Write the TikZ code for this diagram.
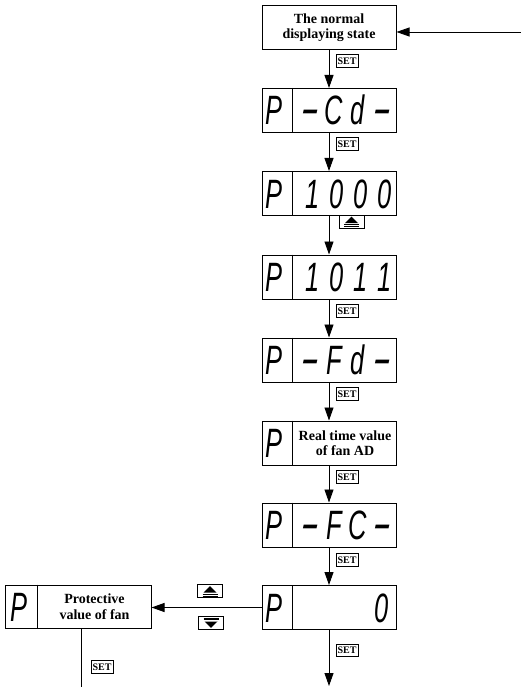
\documentclass[tikz,border=0pt]{standalone}
\usepackage{fontspec}
\usepackage{graphicx}
\setmainfont{Liberation Serif}
\newfontfamily\segfont[FakeStretch=0.62]{Liberation Sans}
\usetikzlibrary{arrows.meta}
\newcommand\sg[1]{\makebox[24pt][c]{#1}}
\newcommand\sgdash{\makebox[24pt][c]{\scalebox{2.2}[1.15]{-}}}
\newcommand\upbtn[3]{%
  \node[btn] (#1) at (#2,#3) {};
  \fill ([shift={(0,-4.8)}]#1.center) -- ([shift={(6.5,1.5)}]#1.center) -- ([shift={(-6.5,1.5)}]#1.center) -- cycle;
  \draw[line width=0.7pt] ([shift={(-7.5,3.2)}]#1.center) -- ([shift={(7.5,3.2)}]#1.center);
  \draw[line width=0.7pt] ([shift={(-7.5,4.9)}]#1.center) -- ([shift={(7.5,4.9)}]#1.center);
}
\newcommand\downbtn[3]{%
  \node[btn] (#1) at (#2,#3) {};
  \fill ([shift={(0,4.8)}]#1.center) -- ([shift={(6.5,-1.5)}]#1.center) -- ([shift={(-6.5,-1.5)}]#1.center) -- cycle;
  \draw[line width=0.7pt] ([shift={(-7.5,-3.2)}]#1.center) -- ([shift={(7.5,-3.2)}]#1.center);
  \draw[line width=0.7pt] ([shift={(-7.5,-4.9)}]#1.center) -- ([shift={(7.5,-4.9)}]#1.center);
}
\begin{document}
\begin{tikzpicture}[x=1pt,y=-1pt,
  box/.style={draw,line width=1pt,minimum width=134pt,minimum height=44pt,inner sep=0pt},
  lbl/.style={font=\bfseries\fontsize{14}{15.5}\selectfont,align=center,inner sep=0pt},
  seg/.style={font=\segfont\itshape\fontsize{41}{41}\selectfont,inner sep=0pt,anchor=base},
  setlbl/.style={draw,line width=0.7pt,font=\bfseries\fontsize{10}{10}\selectfont,inner sep=1.5pt,minimum height=12.5pt},
  arr/.style={line width=0.9pt,-{Triangle[length=13pt,width=9pt]}},
  ln/.style={line width=1pt},
  btn/.style={draw,line width=0.8pt,minimum width=25pt,minimum height=13pt,inner sep=0pt}
]
\useasboundingbox (0,0) rectangle (521,687);

% top box
\node[box] (top) at (329,27.5) {};
\node[lbl] (toptxt) at (top.center) {The normal\\displaying state};

% display boxes
\node[box] (cd) at (329,110.5) {};
\node[box] (k1000) at (329,193.5) {};
\node[box] (k1011) at (329,277) {};
\node[box] (fd) at (329,360) {};
\node[box] (rt) at (329,443) {};
\node[box] (fc) at (329,525) {};
\node[box] (zero) at (329,607.5) {};

\foreach \n in {cd,k1000,k1011,fd,rt,fc,zero}{
  \draw[ln] ([xshift=31pt]\n.north west) -- ([xshift=31pt]\n.south west);
}

% P letters
\node[seg] (pcd) at (274,125) {P};
\node[seg] (p1000) at (274,208) {P};
\node[seg] (p1011) at (274,291.5) {P};
\node[seg] (pfd) at (274,374.5) {P};
\node[seg] (prt) at (274,457.5) {P};
\node[seg] (pfc) at (274,539.5) {P};
\node[seg] (pzero) at (274,622) {P};

% values
\node[seg] (vcd) at (346,125) {\sgdash\sg{C}\sg{d}\sgdash};
\node[seg] (v1000) at (349,208) {\sg{1}\sg{0}\sg{0}\sg{0}};
\node[seg] (v1011) at (349,291.5) {\sg{1}\sg{0}\sg{1}\sg{1}};
\node[seg] (vfd) at (346,374.5) {\sgdash\sg{F}\sg{d}\sgdash};
\node[lbl] (vrt) at (345,443) {Real time value\\of fan AD};
\node[seg] (vfc) at (346,539.5) {\sgdash\sg{F}\sg{C}\sgdash};
\node[seg,anchor=base east] (vzero) at (394,622) {\sg{0}};

% left box
\node[draw,line width=1pt,minimum width=146pt,minimum height=43pt,inner sep=0pt] (lbox) at (78,606.5) {};
\draw[ln] ([xshift=33pt]lbox.north west) -- ([xshift=33pt]lbox.south west);
\node[seg] (plbox) at (19,621) {P};
\node[lbl] (vlbox) at (94.5,606.5) {Protective\\value of fan};

% connectors
\coordinate (in) at (521,32);
\draw[arr] (in) -- (in -| top.east);
\draw[arr] (top.south) -- (cd.north);
\draw[arr] (cd.south) -- (k1000.north);
\draw[arr] (k1000.south) -- (k1011.north);
\draw[arr] (k1011.south) -- (fd.north);
\draw[arr] (fd.south) -- (rt.north);
\draw[arr] (rt.south) -- (fc.north);
\draw[arr] (fc.south) -- (zero.north);
\coordinate (out) at (329,686);
\draw[arr] (zero.south) -- (out);
\draw[arr] (zero.west) -- (zero.west -| lbox.east);
\coordinate (lout) at (81,687);
\draw[ln] (lout |- lbox.south) -- (lout);

% SET labels
\node[setlbl] (s1) at (347,61) {SET};
\node[setlbl] (s2) at (347,144) {SET};
\node[setlbl] (s4) at (347,311) {SET};
\node[setlbl] (s5) at (347,394) {SET};
\node[setlbl] (s6) at (347,477) {SET};
\node[setlbl] (s7) at (347,560) {SET};
\node[setlbl] (s8) at (347,650.5) {SET};
\node[setlbl] (s9) at (102,667) {SET};

% buttons
\upbtn{b1}{351.5}{221.5}
\upbtn{b2}{210}{591}
\downbtn{b3}{211}{623}
\end{tikzpicture}
\end{document}
